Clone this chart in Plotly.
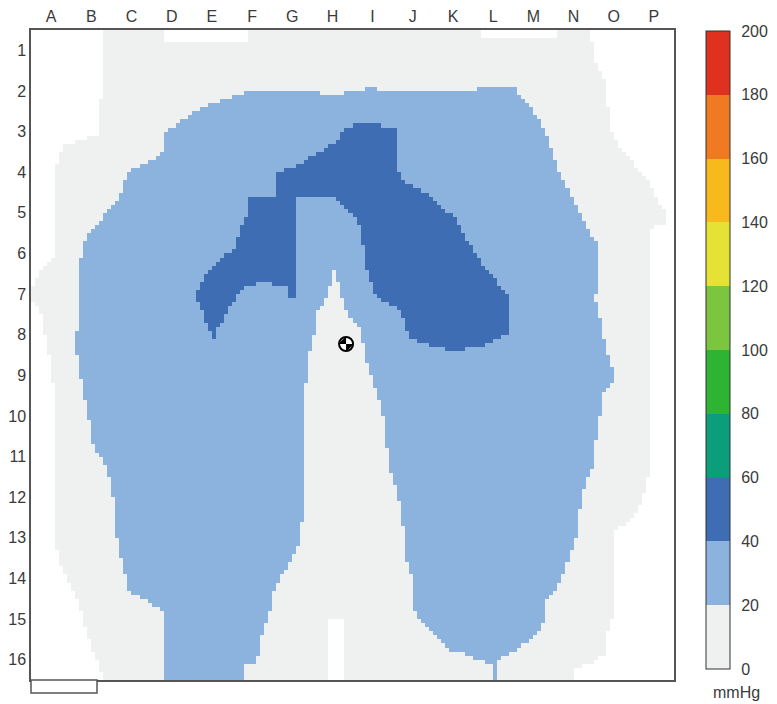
import numpy as np
import plotly.graph_objects as go

# ---------------- data (grid units: 1 = one sensor cell; x: columns A..P, y: rows 1..16) -------------
col_labels = list("ABCDEFGHIJKLMNOP")
row_labels = [str(i) for i in range(1, 17)]
cbar_ticks = [0, 20, 40, 60, 80, 100, 120, 140, 160, 180, 200]
band_colors = ['#eff0f0', '#8cb3de', '#3e6db4', '#0b9e7b', '#2db432',
               '#7cc63f', '#e4e235', '#f7b91c', '#ef7a22', '#df3120']

# pressure level (mmHg) assigned to each region
level_contact = 10     # 0-20 band
level_low = 30         # 20-40 band
level_mid = 50         # 40-60 band

# outline of area in contact (0-20 mmHg)
contact_x = [1.84, 3.26, 3.26, 5.45, 5.45, 11.17, 11.17, 13.11, 13.11, 13.91, 14.03, 14.28, 14.33, 14.41,
             14.66, 14.98, 15.40, 15.65, 15.82, 15.82, 15.45, 15.45, 15.33, 15.08, 14.83, 14.48, 14.46,
             14.36, 14.33, 13.91, 13.46, 13.46, 1.79, 1.72, 1.47, 1.14, 0.85, 0.70, 0.57, 0.57, 0.42,
             0.22, 0.0, 0.0, 0.22, 0.47, 0.60, 0.60, 0.80, 1.72, 1.72, 1.84]
contact_y = [0.0, 0.0, 0.30, 0.30, 0.0, 0.0, 0.25, 0.25, 0.0, 0.0, 0.81, 1.23, 1.72, 2.46,
             2.88, 3.27, 3.77, 4.26, 4.43, 4.73, 4.87, 10.68, 11.10, 11.91, 12.16, 12.33, 14.45,
             14.55, 15.29, 15.61, 15.68, 16.0, 16.0, 15.61, 15.11, 13.96, 13.39, 13.14, 12.21, 8.86, 7.80,
             6.84, 6.72, 6.33, 5.98, 5.71, 5.54, 3.45, 2.83, 2.54, 1.72, 1.60]

# outline of 20-40 mmHg area (horseshoe)
low_x = [5.45, 7.24, 7.24, 7.81, 7.81, 8.34, 8.34, 8.58, 8.58, 11.12, 11.12, 11.99, 12.24, 12.49,
         12.74, 12.96, 13.11, 13.34, 13.59, 13.91, 14.11, 14.11, 14.03, 14.16, 14.28, 14.41, 14.53,
         14.41, 14.23, 14.16, 14.03, 13.96, 13.83, 13.66, 13.59, 13.36, 13.11, 12.86, 12.74, 12.42,
         11.99, 11.50, 11.17, 10.85, 10.43, 10.10, 9.75, 9.50, 9.48, 9.31, 9.23, 9.11, 9.01, 8.88,
         8.81, 8.68, 8.51, 8.36, 8.24, 8.19, 7.94, 7.81, 7.64, 7.51, 7.49, 7.37, 7.14, 7.07, 6.94,
         6.82, 6.77, 6.77, 6.69, 6.57, 6.44, 6.15, 6.02, 5.90, 5.77, 5.62, 5.35, 5.35, 3.26, 3.26,
         3.33, 3.33, 3.04, 2.79, 2.46, 2.39, 2.26, 2.14, 2.09, 1.97, 1.84, 1.54, 1.39, 1.27, 1.14,
         1.17, 1.27, 1.34, 1.52, 1.89, 2.21, 2.39, 2.64, 3.28, 3.33, 3.53, 4.03, 4.53, 5.20]
low_y = [1.48, 1.48, 1.60, 1.60, 1.48, 1.48, 1.38, 1.38, 1.48, 1.48, 1.38, 1.38, 1.65, 1.97,
         2.39, 2.88, 3.37, 3.86, 4.43, 5.00, 5.34, 6.08, 6.65, 7.14, 7.80, 8.20, 8.49,
         8.79, 8.94, 9.43, 10.26, 10.76, 11.00, 11.67, 12.33, 13.07, 13.71, 13.96, 14.70, 15.04,
         15.29, 15.61, 15.53, 15.36, 15.29, 14.94, 14.62, 14.20, 13.56, 12.90, 11.91, 11.42, 11.00, 10.68,
         9.85, 9.18, 8.69, 8.20, 7.70, 7.31, 7.09, 6.82, 6.15, 5.86, 6.15, 6.57, 6.94, 7.38, 7.95,
         8.94, 10.83, 11.91, 12.58, 12.90, 13.14, 13.56, 13.93, 14.55, 14.79, 15.61, 15.61, 16.0, 16.0, 15.19,
         15.11, 14.33, 14.20, 13.96, 13.88, 13.56, 13.07, 12.48, 11.67, 11.10, 10.68, 10.17, 9.28, 8.79, 7.88,
         6.33, 5.42, 5.24, 4.92, 4.50, 4.11, 3.52, 3.37, 3.03, 2.54, 2.39, 2.04, 1.80, 1.60]

# small 20-40 mmHg spike reaching the lower edge under the right leg
spike_x = [11.50, 11.59, 11.59, 11.50]
spike_y = [15.61, 15.61, 16.0, 16.0]

# outline of 40-60 mmHg area
mid_x = [4.50, 4.13, 4.16, 4.38, 4.70, 5.03, 5.20, 5.37, 5.45, 6.15, 6.15, 6.77, 7.12, 7.56, 7.81,
         8.24, 8.68, 8.73, 9.11, 9.11, 9.26, 9.50, 9.98, 10.25, 10.60, 10.85, 11.17, 11.50, 11.84,
         11.92, 11.92, 11.59, 11.25, 10.50, 10.10, 9.85, 9.48, 9.36, 9.23, 9.11, 8.76, 8.51, 8.43,
         8.26, 8.24, 8.11, 7.86, 7.69, 7.56, 6.57, 6.57, 6.44, 6.44, 5.65, 5.20, 4.95, 4.78, 4.63, 4.55]
mid_y = [7.56, 6.65, 6.35, 5.98, 5.59, 5.42, 4.92, 4.60, 4.14, 4.11, 3.50, 3.27, 3.03, 2.78, 2.46,
         2.26, 2.26, 2.39, 2.46, 3.45, 3.74, 3.86, 4.11, 4.36, 4.68, 5.17, 5.66, 6.08, 6.47,
         6.72, 7.46, 7.63, 7.80, 7.88, 7.83, 7.70, 7.63, 7.38, 7.06, 6.82, 6.70, 6.47, 6.15,
         5.66, 5.00, 4.68, 4.43, 4.18, 4.11, 4.11, 6.57, 6.57, 6.28, 6.23, 6.40, 6.82, 7.21, 7.34, 7.56]

# gap without contact at the lower edge between the legs
gap_x = [7.44, 7.76, 7.76, 7.44]
gap_y = [14.55, 14.55, 16.0, 16.0]

# centre of pressure
cop_x = [7.84]
cop_y = [7.73]

# ---------------- rasterise the regions onto the sensor grid ----------------
nx, ny = 160, 160
xc = (np.arange(nx) + 0.5) * 16.0 / nx
yc = (np.arange(ny) + 0.5) * 16.0 / ny
X, Y = np.meshgrid(xc, yc)


def inside(px, py):
    px = np.asarray(px, float)
    py = np.asarray(py, float)
    res = np.zeros(X.shape, bool)
    j = len(px) - 1
    for i in range(len(px)):
        xi, yi, xj, yj = px[i], py[i], px[j], py[j]
        denom = (yj - yi) if yj != yi else 1e-12
        cond = ((yi > Y) != (yj > Y)) & (X < (xj - xi) * (Y - yi) / denom + xi)
        res ^= cond
        j = i
    return res


z = np.full(X.shape, np.nan)
z[inside(contact_x, contact_y)] = level_contact
z[inside(low_x, low_y)] = level_low
z[inside(spike_x, spike_y)] = level_low
z[inside(mid_x, mid_y)] = level_mid
z[inside(gap_x, gap_y)] = np.nan

colorscale = []
nb = len(band_colors)
for i, c in enumerate(band_colors):
    colorscale.append([i / nb, c])
    colorscale.append([(i + 1) / nb, c])

FONT = "Liberation Sans, Arial, sans-serif"
TXT = "#3a3a3a"

fig = go.Figure()
fig.add_trace(go.Heatmap(
    x=xc, y=yc, z=z, zmin=0, zmax=200, colorscale=colorscale, zsmooth=False,
    hoverinfo="skip",
    colorbar=dict(
        x=(706 - 31) / 643, xanchor="left", xpad=0,
        y=(680 - 31) / 650, yanchor="top", ypad=0,
        lenmode="pixels", len=638, thickness=24,
        outlinewidth=1, outlinecolor="#333333",
        tickmode="array", tickvals=cbar_ticks, ticktext=[str(t) for t in cbar_ticks],
        ticks="outside", ticklen=8, tickcolor="rgba(0,0,0,0)",
        tickfont=dict(family=FONT, size=16, color=TXT),
    ),
))

# centre-of-pressure symbol
fig.add_trace(go.Scatter(x=cop_x, y=cop_y, mode="markers", hoverinfo="skip",
                         marker=dict(symbol="circle", size=14, color="white",
                                     line=dict(color="black", width=0))))
fig.add_trace(go.Scatter(x=cop_x, y=cop_y, mode="markers", hoverinfo="skip",
                         marker=dict(symbol="bowtie", size=11, angle=45, color="black",
                                     line=dict(width=0))))
fig.add_trace(go.Scatter(x=cop_x, y=cop_y, mode="markers", hoverinfo="skip",
                         marker=dict(symbol="circle-open", size=14, color="black",
                                     line=dict(color="black", width=2))))

fig.update_xaxes(range=[0, 16], side="top", tickmode="array",
                 tickvals=[i + 0.5 for i in range(16)], ticktext=col_labels,
                 showgrid=False, zeroline=False, showline=True, mirror=True,
                 linecolor="#555555", linewidth=1.5, ticks="", automargin=False,
                 tickfont=dict(family=FONT, size=16, color=TXT))
fig.update_yaxes(range=[16, 0], tickmode="array",
                 tickvals=[i + 0.5 for i in range(16)], ticktext=row_labels,
                 showgrid=False, zeroline=False, showline=True, mirror=True,
                 linecolor="#555555", linewidth=1.5, ticks="", automargin=False,
                 tickfont=dict(family=FONT, size=16, color=TXT))

# small box below the sensor map
fig.add_shape(type="rect", xref="paper", yref="paper", x0=0, x1=66 / 643, y0=-13 / 650, y1=0,
              line=dict(color="#555555", width=1.5), fillcolor="white")

fig.add_annotation(text="mmHg", xref="paper", yref="paper", x=(736 - 31) / 643, y=-12 / 650,
                   xanchor="center", yanchor="middle", showarrow=False,
                   font=dict(family=FONT, size=16, color=TXT))

# the page body adds an 8 px offset, so margins are reduced on the left/top accordingly
fig.update_layout(width=777, height=704,
                  margin=dict(l=23, r=111, t=22, b=32, autoexpand=False),
                  plot_bgcolor="white", paper_bgcolor="white", showlegend=False)

fig.write_html("out.html")
